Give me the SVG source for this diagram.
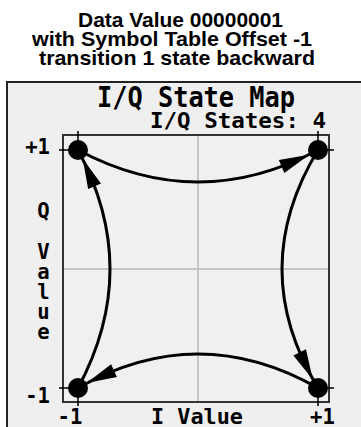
<svg xmlns="http://www.w3.org/2000/svg" width="361" height="427" viewBox="0 0 361 427">
<style>
.title{font-family:"Liberation Sans",Arial,sans-serif;font-weight:bold;font-size:21px;fill:#000}
.scr{font-family:"DejaVu Sans Mono","Liberation Mono",monospace;font-weight:bold;fill:#000}
.curve{fill:none;stroke:#000;stroke-width:3}
.tick{stroke:#000;stroke-width:1.5;fill:none}
.grid{stroke:#c4c4c4;stroke-width:2}
.dot{fill:#000}
</style>
<defs>
<path id="ah" d="M0,0 L-30,-7 L-30,7 Z" fill="#000"/>
</defs>
<rect width="361" height="427" fill="#fff"/>
<g id="titles">
<text class="title" x="78" y="27" textLength="205" lengthAdjust="spacingAndGlyphs">Data Value 00000001</text>
<text class="title" x="32" y="46" textLength="280" lengthAdjust="spacingAndGlyphs">with Symbol Table Offset -1</text>
<text class="title" x="39" y="65" textLength="276" lengthAdjust="spacingAndGlyphs">transition 1 state backward</text>
</g>
<g id="screen">
<rect x="7" y="82" width="360" height="360" fill="#efefef" stroke="#222" stroke-width="2"/>
<text class="scr" x="97" y="107" font-size="28.8" textLength="198" lengthAdjust="spacingAndGlyphs">I/Q State Map</text>
<text class="scr" x="150" y="128" font-size="20.6" textLength="176" lengthAdjust="spacingAndGlyphs">I/Q States: 4</text>
</g>
<g id="plot">
<rect x="63" y="135" width="266" height="267" fill="#f0f0f0" stroke="#333" stroke-width="2"/>
<line class="grid" x1="198" y1="136" x2="198" y2="401"/>
<line class="grid" x1="64" y1="269" x2="328" y2="269"/>
</g>
<g id="axis-labels" class="scr" font-size="20.6">
<text x="50" y="154" text-anchor="end">+1</text>
<text x="50" y="403" text-anchor="end">-1</text>
<text x="70" y="424" text-anchor="middle">-1</text>
<text x="151" y="424" textLength="92" lengthAdjust="spacingAndGlyphs">I Value</text>
<text x="322.5" y="424" text-anchor="middle">+1</text>
<g text-anchor="middle">
<text x="43.5" y="218">Q</text>
<text x="43.5" y="259">V</text>
<text x="43.5" y="279">a</text>
<text x="43.5" y="299">l</text>
<text x="43.5" y="319">u</text>
<text x="43.5" y="339">e</text>
</g>
</g>
<g id="ticks" class="tick">
<path d="M59,150 H78 M78,131 V150"/>
<path d="M318,131 V150 M318,150 H334"/>
<path d="M59,388 H78 M78,388 V406"/>
<path d="M318,388 H334 M318,388 V406"/>
</g>
<g id="connectors">
<path class="curve" d="M78,150 Q198,214 318,150"/>
<path class="curve" d="M318,150 Q246,269 318,388"/>
<path class="curve" d="M318,388 Q198,320 78,388"/>
<path class="curve" d="M78,388 Q142,269 78,150"/>
<use href="#ah" transform="translate(309.2,154.7) rotate(-23.1)"/>
<use href="#ah" transform="translate(312.8,379.4) rotate(64.1)"/>
<use href="#ah" transform="translate(86.7,383.1) rotate(155.5)"/>
<use href="#ah" transform="translate(82.7,158.8) rotate(-113.3)"/>
</g>
<g id="state-tl"><circle class="dot" cx="78" cy="150" r="10"/></g>
<g id="state-tr"><circle class="dot" cx="318" cy="150" r="10"/></g>
<g id="state-br"><circle class="dot" cx="318" cy="388" r="10"/></g>
<g id="state-bl"><circle class="dot" cx="78" cy="388" r="10"/></g>
</svg>
